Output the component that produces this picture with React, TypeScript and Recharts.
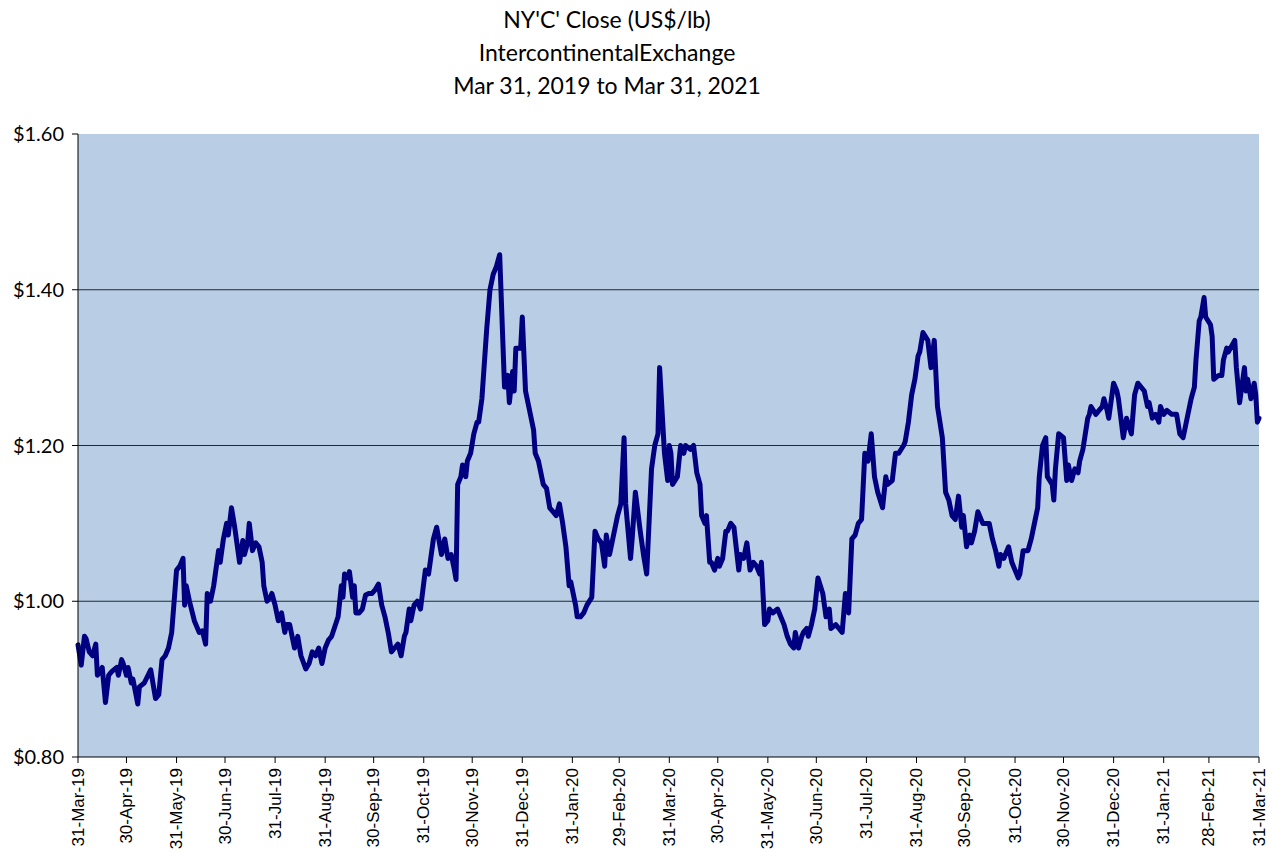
import React from "react";
import { LineChart, Line, XAxis, YAxis, CartesianGrid } from "recharts";

// Days elapsed since 31-Mar-2019 for each observation
const dayOffsets: number[] = [
  0, 2, 4, 5, 7, 9, 11, 12, 14, 15, 17, 19, 21, 24, 25, 27, 28, 30, 31, 33, 34, 37, 38, 41, 45, 48, 50, 52, 54, 56, 58, 61, 63, 65, 66, 67, 69, 72, 73, 75, 77, 79, 80, 82, 84, 87, 88, 90, 92, 93, 95, 97, 100, 102, 103, 105, 106, 108, 110, 112, 114, 115, 117, 119, 120, 122, 124, 126, 128, 129, 131, 134, 136, 138, 141, 143, 145, 147, 149, 151, 153, 155, 157, 161, 163, 164, 165, 167, 168, 170, 171, 172, 174, 176, 178, 180, 182, 184, 186, 188, 190, 192, 194, 196, 198, 200, 202, 203, 205, 206, 208, 210, 212, 215, 217, 220, 222, 225, 227, 229, 231, 233, 234, 235, 237, 238, 240, 241, 243, 245, 247, 248, 250, 253, 255, 257, 259, 261, 264, 266, 267, 269, 270, 271, 274, 275, 277, 279, 282, 283, 285, 288, 290, 292, 294, 296, 298, 300, 302, 304, 305, 308, 309, 311, 313, 315, 318, 320, 322, 324, 326, 327, 329, 331, 334, 336, 338, 339, 342, 343, 345, 348, 350, 352, 355, 357, 359, 360, 363, 365, 366, 367, 368, 371, 373, 375, 376, 379, 381, 383, 385, 386, 388, 389, 391, 392, 394, 396, 397, 399, 401, 402, 404, 406, 409, 410, 412, 414, 416, 418, 420, 422, 423, 425, 427, 428, 430, 433, 437, 439, 441, 443, 444, 446, 448, 449, 451, 452, 454, 456, 458, 461, 463, 465, 466, 469, 471, 473, 475, 477, 479, 481, 483, 485, 487, 489, 491, 493, 495, 498, 500, 501, 504, 506, 508, 511, 512, 514, 516, 518, 520, 521, 523, 526, 528, 530, 532, 535, 537, 539, 541, 543, 545, 547, 548, 550, 552, 553, 555, 557, 560, 562, 564, 566, 568, 570, 571, 573, 576, 578, 580, 582, 583, 585, 588, 590, 592, 594, 595, 597, 599, 600, 603, 604, 605, 607, 610, 612, 613, 615, 617, 619, 620, 622, 625, 626, 627, 630, 632, 634, 635, 637, 638, 641, 643, 644, 647, 649, 652, 654, 656, 658, 660, 662, 663, 665, 667, 669, 670, 672, 674, 677, 680, 682, 684, 686, 689, 691, 692, 694, 695, 697, 698, 701, 702, 703, 706, 708, 709, 711, 712, 716, 717, 719, 722, 723, 724, 726, 728, 729, 730, 731,
];

// NY'C' close, US$/lb
const closePrices: number[] = [
  0.944, 0.918, 0.955, 0.952, 0.935, 0.93, 0.945, 0.905, 0.91, 0.915, 0.87, 0.905, 0.91, 0.915, 0.905, 0.925, 0.92, 0.905, 0.915, 0.895, 0.9, 0.868, 0.89, 0.895, 0.912, 0.875, 0.88, 0.925, 0.93, 0.94, 0.96, 1.04, 1.045, 1.055, 0.995, 1.02, 1.0, 0.975, 0.97, 0.96, 0.962, 0.945, 1.01, 1.0, 1.02, 1.065, 1.05, 1.08, 1.1, 1.085, 1.12, 1.095, 1.05, 1.078, 1.06, 1.075, 1.1, 1.065, 1.075, 1.07, 1.05, 1.02, 1.0, 1.005, 1.01, 0.995, 0.975, 0.985, 0.96, 0.97, 0.97, 0.94, 0.955, 0.93, 0.913, 0.92, 0.935, 0.93, 0.94, 0.92, 0.94, 0.95, 0.955, 0.98, 1.02, 1.005, 1.035, 1.03, 1.038, 1.005, 1.02, 0.985, 0.985, 0.99, 1.008, 1.01, 1.01, 1.015, 1.022, 0.995, 0.98, 0.96, 0.935, 0.94, 0.945, 0.93, 0.955, 0.96, 0.99, 0.975, 0.995, 1.0, 0.99, 1.04, 1.035, 1.08, 1.095, 1.06, 1.08, 1.055, 1.06, 1.04, 1.028, 1.15, 1.16, 1.175, 1.16, 1.18, 1.19, 1.215, 1.23, 1.23, 1.26, 1.35, 1.4, 1.42, 1.43, 1.445, 1.275, 1.29, 1.255, 1.295, 1.27, 1.325, 1.325, 1.365, 1.27, 1.25, 1.22, 1.19, 1.18, 1.15, 1.145, 1.12, 1.115, 1.11, 1.125, 1.1, 1.07, 1.02, 1.025, 0.995, 0.98, 0.98, 0.985, 0.995, 1.005, 1.09, 1.08, 1.075, 1.045, 1.085, 1.06, 1.08, 1.11, 1.125, 1.21, 1.125, 1.055, 1.08, 1.14, 1.09, 1.06, 1.035, 1.17, 1.2, 1.215, 1.3, 1.19, 1.155, 1.2, 1.19, 1.15, 1.16, 1.2, 1.19, 1.2, 1.195, 1.2, 1.165, 1.15, 1.11, 1.1, 1.11, 1.05, 1.05, 1.04, 1.055, 1.045, 1.055, 1.09, 1.09, 1.1, 1.095, 1.04, 1.06, 1.055, 1.075, 1.04, 1.05, 1.045, 1.035, 1.05, 0.97, 0.975, 0.99, 0.985, 0.99, 0.97, 0.955, 0.945, 0.94, 0.96, 0.94, 0.955, 0.96, 0.965, 0.955, 0.97, 0.99, 1.03, 1.01, 0.98, 0.99, 0.965, 0.97, 0.965, 0.96, 1.01, 0.985, 1.08, 1.085, 1.1, 1.105, 1.19, 1.18, 1.215, 1.16, 1.14, 1.12, 1.16, 1.15, 1.155, 1.19, 1.19, 1.2, 1.205, 1.23, 1.265, 1.285, 1.315, 1.32, 1.345, 1.335, 1.3, 1.335, 1.25, 1.21, 1.14, 1.13, 1.11, 1.105, 1.135, 1.095, 1.11, 1.07, 1.085, 1.075, 1.09, 1.115, 1.1, 1.1, 1.1, 1.08, 1.065, 1.045, 1.06, 1.055, 1.07, 1.05, 1.04, 1.03, 1.035, 1.065, 1.065, 1.08, 1.1, 1.12, 1.16, 1.2, 1.21, 1.16, 1.15, 1.13, 1.17, 1.215, 1.21, 1.155, 1.175, 1.155, 1.17, 1.165, 1.18, 1.195, 1.235, 1.24, 1.25, 1.24, 1.245, 1.25, 1.26, 1.245, 1.235, 1.28, 1.27, 1.26, 1.21, 1.235, 1.215, 1.265, 1.28, 1.275, 1.27, 1.25, 1.255, 1.235, 1.24, 1.23, 1.25, 1.24, 1.245, 1.24, 1.24, 1.215, 1.21, 1.23, 1.26, 1.275, 1.31, 1.36, 1.365, 1.39, 1.365, 1.355, 1.34, 1.285, 1.29, 1.29, 1.31, 1.325, 1.32, 1.335, 1.3, 1.255, 1.3, 1.27, 1.285, 1.26, 1.28, 1.265, 1.23, 1.235,
];

const tickDates: string[] = [
  "2019-03-31", "2019-04-30", "2019-05-31", "2019-06-30", "2019-07-31", "2019-08-31", "2019-09-30",
  "2019-10-31", "2019-11-30", "2019-12-31", "2020-01-31", "2020-02-29", "2020-03-31", "2020-04-30",
  "2020-05-31", "2020-06-30", "2020-07-31", "2020-08-31", "2020-09-30", "2020-10-31", "2020-11-30",
  "2020-12-31", "2021-01-31", "2021-02-28", "2021-03-31",
];
const tickLabels: string[] = [
  "31-Mar-19", "30-Apr-19", "31-May-19", "30-Jun-19", "31-Jul-19", "31-Aug-19", "30-Sep-19",
  "31-Oct-19", "30-Nov-19", "31-Dec-19", "31-Jan-20", "29-Feb-20", "31-Mar-20", "30-Apr-20",
  "31-May-20", "30-Jun-20", "31-Jul-20", "31-Aug-20", "30-Sep-20", "31-Oct-20", "30-Nov-20",
  "31-Dec-20", "31-Jan-21", "28-Feb-21", "31-Mar-21",
];
const yTicks: number[] = [0.8, 1.0, 1.2, 1.4, 1.6];
const gridValues: number[] = [1.0, 1.2, 1.4];
const titleLines: string[] = ["NY'C' Close (US$/lb)", "IntercontinentalExchange", "Mar 31, 2019 to Mar 31, 2021"];

const DAY = 86400000;
const base = Date.UTC(2019, 2, 31);
const tickOffsets = tickDates.map((d) => {
  const [y, m, dd] = d.split("-").map(Number);
  return Math.round((Date.UTC(y, m - 1, dd) - base) / DAY);
});
const labelByOffset: Record<number, string> = {};
tickOffsets.forEach((o, i) => (labelByOffset[o] = tickLabels[i]));

const data = dayOffsets.map((d, i) => ({ day: d, close: closePrices[i] }));

const XTick = (props: any) => {
  const { x, y, payload } = props;
  const ty = y + 3;
  return (
    <text
      x={x}
      y={ty}
      transform={`rotate(-90, ${x}, ${ty})`}
      textAnchor="end"
      dominantBaseline="central"
      fontFamily="'Liberation Sans', Arial, sans-serif"
      fontSize={17}
      fill="#000"
    >
      {labelByOffset[payload.value]}
    </text>
  );
};

export default function App() {
  return (
    <div style={{ position: "absolute", left: 0, top: 0, width: 1269, height: 852, background: "#fff" }}>
      <div
        style={{
          position: "absolute",
          left: 307,
          width: 600,
          top: 3,
          textAlign: "center",
          fontFamily: "Lato, 'Open Sans', sans-serif",
          fontSize: 23,
          lineHeight: "33px",
          color: "#000",
        }}
      >
        {titleLines.map((t) => (
          <div key={t}>{t}</div>
        ))}
      </div>
      <LineChart
        width={1269}
        height={852}
        data={data}
        margin={{ top: 134, right: 10, bottom: 0, left: 0 }}
      >
        <CartesianGrid
          vertical={false}
          horizontalValues={gridValues}
          stroke="#000"
          strokeOpacity={0.8}
          fill="#B9CDE5"
          fillOpacity={1}
        />
        <XAxis
          dataKey="day"
          type="number"
          domain={[0, 731]}
          ticks={tickOffsets}
          interval={0}
          height={95}
          tick={<XTick />}
          tickSize={6}
          axisLine={{ stroke: "#000" }}
          tickLine={{ stroke: "#000" }}
        />
        <YAxis
          type="number"
          domain={[0.8, 1.6]}
          ticks={yTicks}
          width={78}
          tickSize={6}
          tickMargin={8}
          tickFormatter={(v: number) => `$${v.toFixed(2)}`}
          tick={{ fontFamily: "Lato, 'Open Sans', sans-serif", fontSize: 20, fill: "#000" }}
          axisLine={{ stroke: "#000" }}
          tickLine={{ stroke: "#000" }}
          allowDataOverflow
        />
        <Line
          type="linear"
          dataKey="close"
          stroke="#000080"
          strokeWidth={5}
          dot={false}
          isAnimationActive={false}
          strokeLinejoin="round"
          strokeLinecap="round"
        />
      </LineChart>
    </div>
  );
}
